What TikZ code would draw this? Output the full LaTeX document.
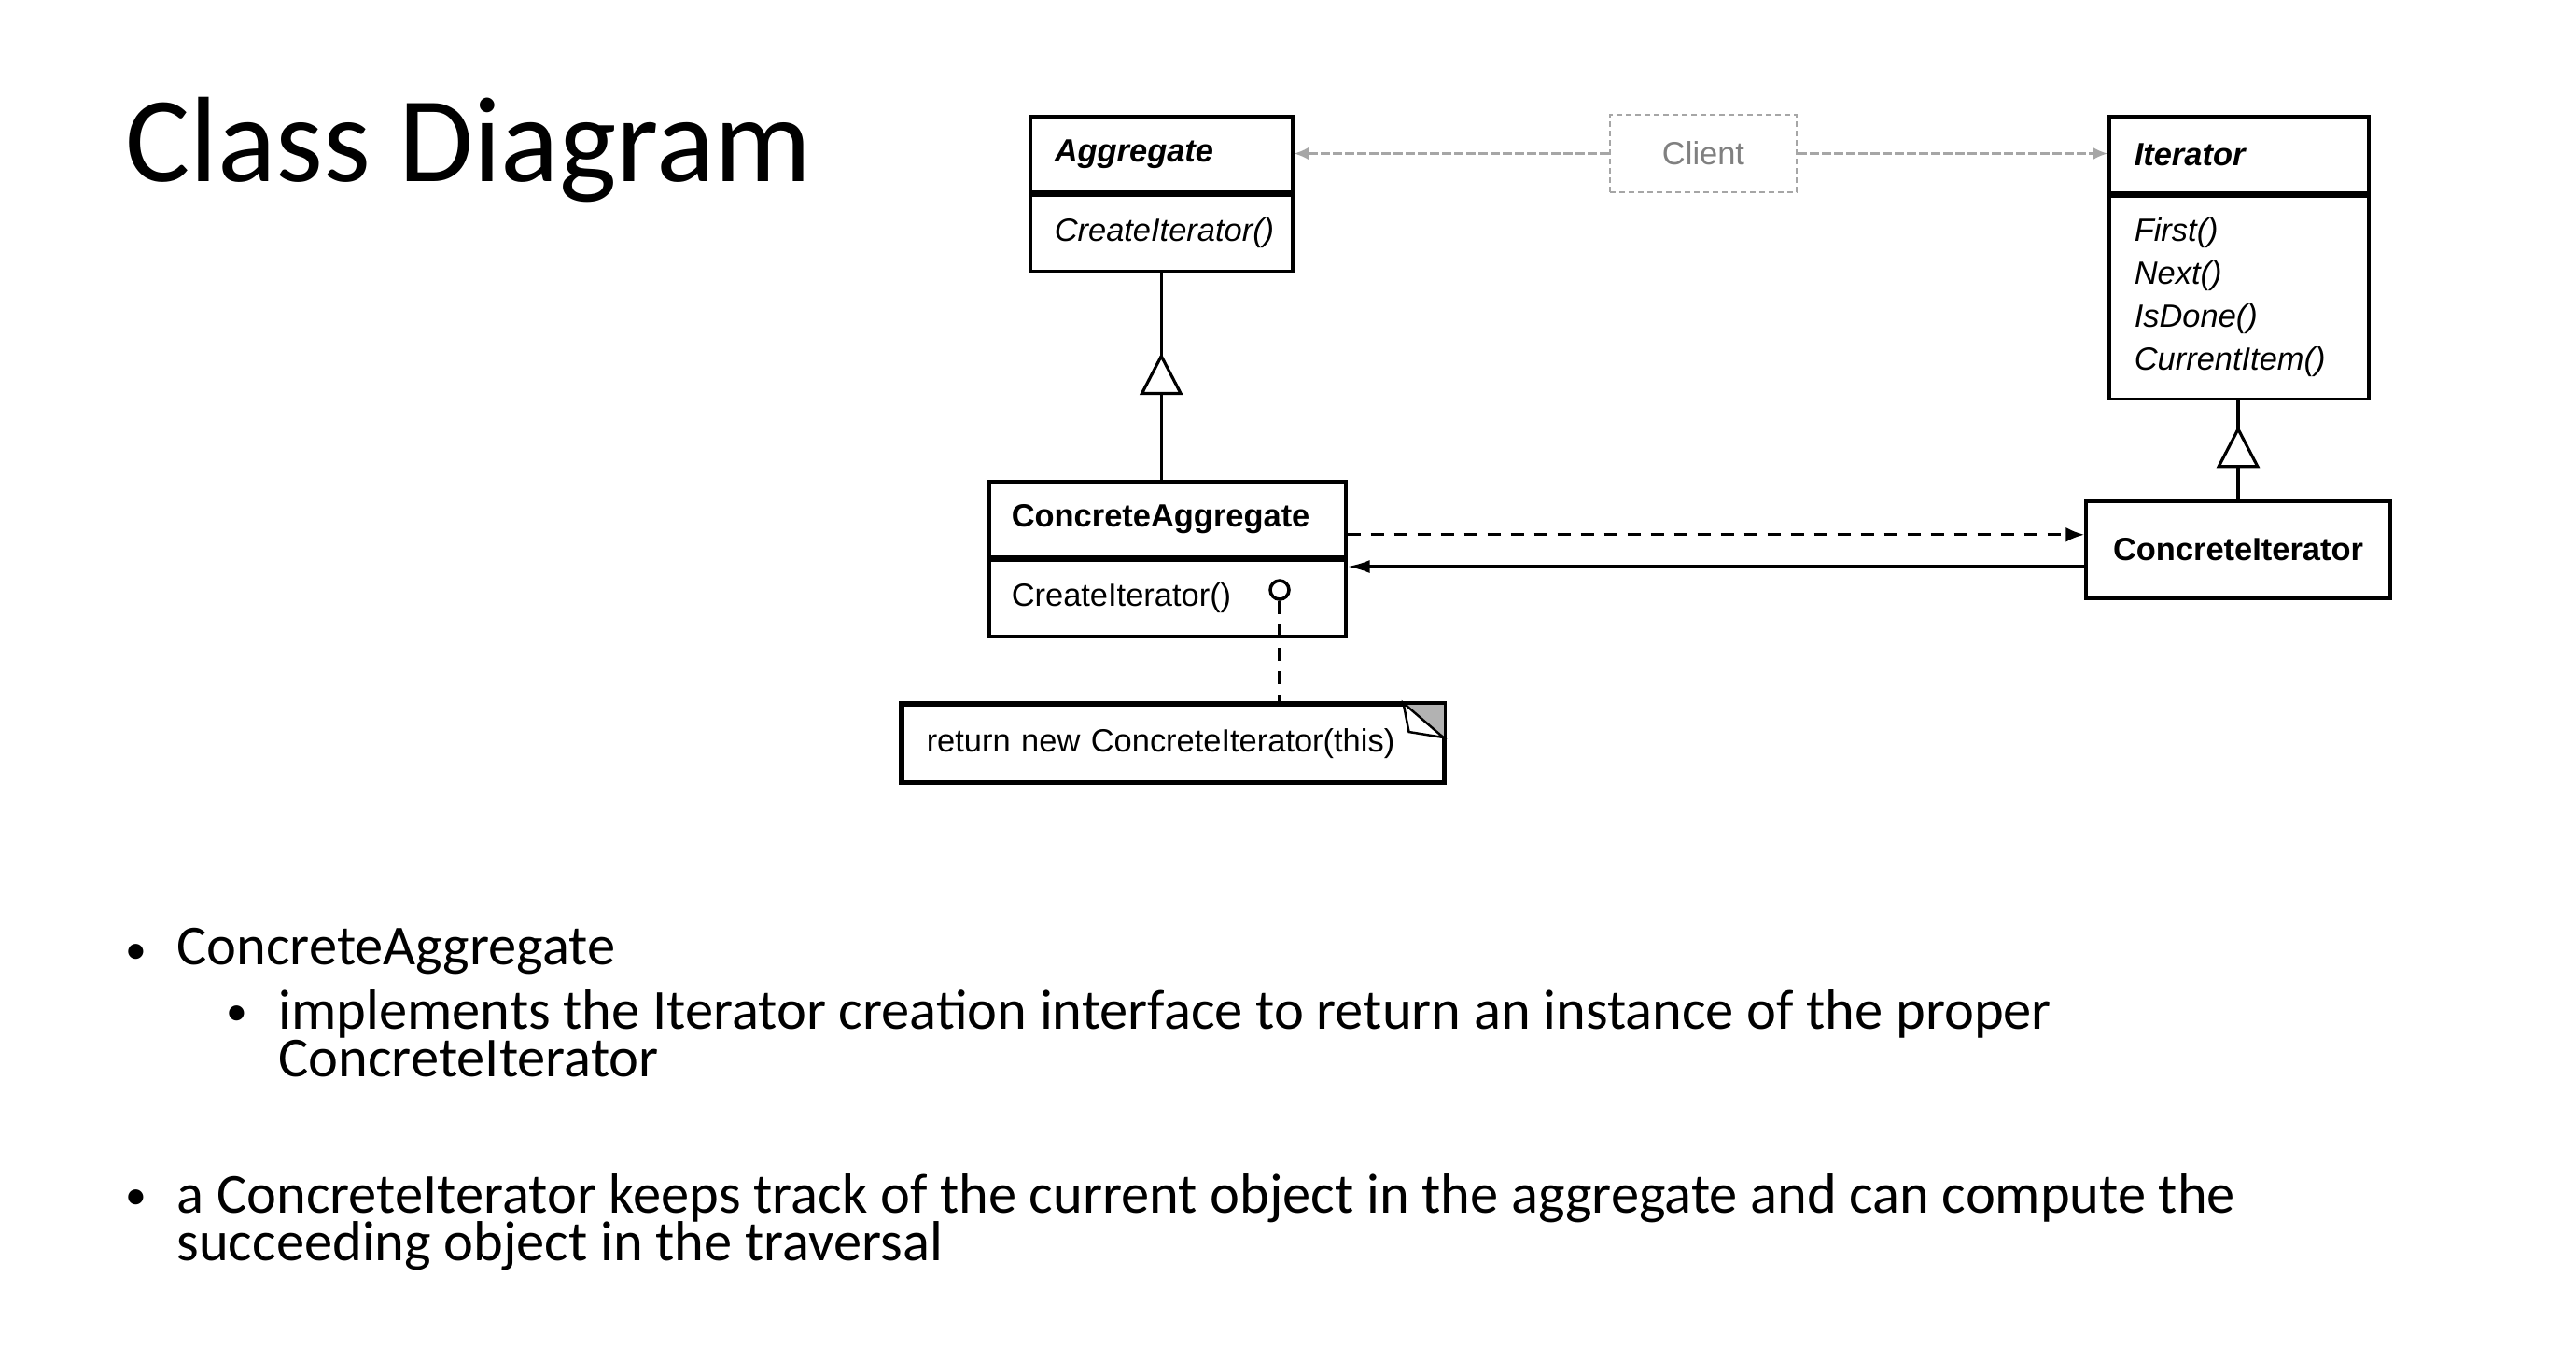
\documentclass[tikz,border=0pt]{standalone}
\usepackage{fontspec}
\setmainfont{Carlito}
\newfontfamily\umlfont{Liberation Sans}
\newcommand\bulletfont{\fontsize{17.2}{14.6}\selectfont\lineskiplimit=-20pt\relax}
\usetikzlibrary{arrows.meta,positioning,decorations.markings}

\begin{document}
\begin{tikzpicture}[>=Latex,line width=0.9pt,
  clsbox/.style={draw,line width=1pt,anchor=north west,inner xsep=2.6mm,inner ysep=0pt,align=left,
    font=\umlfont\fontsize{9.8}{11.8}\selectfont},
  dep/.style={dash pattern=on 1.4mm off 1.1mm,-{Latex[length=2mm,width=1.6mm]}},
  use/.style={gray!70,line width=0.7pt,dash pattern=on 1mm off 0.3mm,-{Latex[length=1.6mm,width=1.4mm]}},
  inh/.style={postaction={decorate},decoration={markings,
    mark=at position #1 with {\arrow{Triangle[fill=white,length=4.5mm,width=4.6mm]}}}},
  bul/.style={anchor=base,inner sep=0pt,font=\fontsize{13}{15}\selectfont},
  txt/.style={anchor=north west,inner sep=0pt,align=left,font=\bulletfont}]
  \fill[white] (0,0) rectangle (27.6,-14.42);
  \useasboundingbox (0,0) rectangle (27.6,-14.42);
  \node[anchor=base west,inner sep=0pt,font=\fontsize{37}{40}\selectfont] (title) at (1.33,-1.94) {Class Diagram};
  \node[clsbox,text width=22.9mm,minimum height=8.1mm,font=\umlfont\fontsize{9.8}{11.8}\selectfont\bfseries\itshape] (agg) at (11.02,-1.23) {Aggregate};
  \node[clsbox,text width=22.9mm,minimum height=8.1mm,font=\umlfont\fontsize{9.8}{11.8}\selectfont\itshape] (aggops) at (agg.south west) {CreateIterator()};
  \node[draw=gray!70,dash pattern=on 0.6mm off 0.4mm,line width=0.7pt,minimum width=20mm,minimum height=8.3mm,
    text=gray,font=\umlfont\fontsize{9.8}{11.8}\selectfont] (client) at (18.25,-1.645) {Client};
  \node[clsbox,inner xsep=2.7mm,text width=22.4mm,minimum height=8.2mm,font=\umlfont\fontsize{9.8}{11.8}\selectfont\bfseries\itshape] (iter) at (22.58,-1.23) {Iterator};
  \node[clsbox,inner xsep=2.7mm,text width=22.4mm,minimum height=21.7mm,font=\umlfont\fontsize{9.8}{13.1}\selectfont\itshape] (iterops) at (iter.south west) {First()\\Next()\\IsDone()\\CurrentItem()};
  \node[clsbox,inner xsep=2.4mm,text width=33.4mm,minimum height=8.1mm,font=\umlfont\fontsize{9.8}{11.8}\selectfont\bfseries] (cagg) at (10.58,-5.14) {ConcreteAggregate};
  \node[clsbox,inner xsep=2.4mm,text width=33.4mm,minimum height=8.1mm] (caggops) at (cagg.south west) {CreateIterator()};
  \node[draw,line width=1pt,circle,inner sep=0pt,minimum size=2mm] (lolli) at (13.71,-6.32) {};
  \node[draw,line width=1pt,minimum width=32.6mm,minimum height=10.4mm,
    font=\umlfont\fontsize{9.8}{11.8}\selectfont\bfseries] (citer) at (23.98,-5.89) {ConcreteIterator};
  \node[clsbox,text width=52.8mm,minimum height=8.3mm] (note) at (9.65,-7.53) {return new ConcreteIterator(this)};
  \fill[gray!60] (note.north east) -- ++(-4.5mm,0) -- ++(4.5mm,-3.7mm) -- cycle;
  \draw[fill=white,line width=0.7pt] ([xshift=-4.5mm]note.north east) -- ++(0.6mm,-3.1mm) -- ++(3.7mm,-0.6mm) -- cycle;
  \draw[line width=1pt] (note.north west) rectangle (note.south east);
  \draw[use] (client) -- (client -| agg.east);
  \draw[use] (client) -- (client -| iter.west);
  \draw[inh=1.36cm] (aggops.south |- cagg.north) -- (aggops.south);
  \draw[inh=0.79cm] (citer.north) -- (iterops.south -| citer.north);
  \draw[dep] ([yshift=-1.65mm]cagg.east) -- ([yshift=-1.65mm]cagg.east -| citer.west);
  \draw[-{Latex[length=2.4mm,width=1.4mm]}] ([yshift=-1.8mm]citer.west) -- ([yshift=-1.8mm]citer.west -| cagg.east);
  \draw[line width=0.9pt,dash pattern=on 1.4mm off 1.1mm] (lolli.south) -- (lolli.south |- note.north);
  \node[bul] (b1) at (1.46,-10.32) {•};
  \node[txt] (t1) at (1.88,-9.93) {ConcreteAggregate};
  \node[bul] (b2) at (2.54,-10.98) {•};
  \node[txt] (t2) at (2.97,-10.59) {implements the Iterator creation interface to return an instance of the proper\\ConcreteIterator};
  \node[bul] (b3) at (1.46,-12.95) {•};
  \node[txt] (t3) at (1.88,-12.56) {a ConcreteIterator keeps track of the current object in the aggregate and can compute the\\succeeding object in the traversal};
\end{tikzpicture}
\end{document}
